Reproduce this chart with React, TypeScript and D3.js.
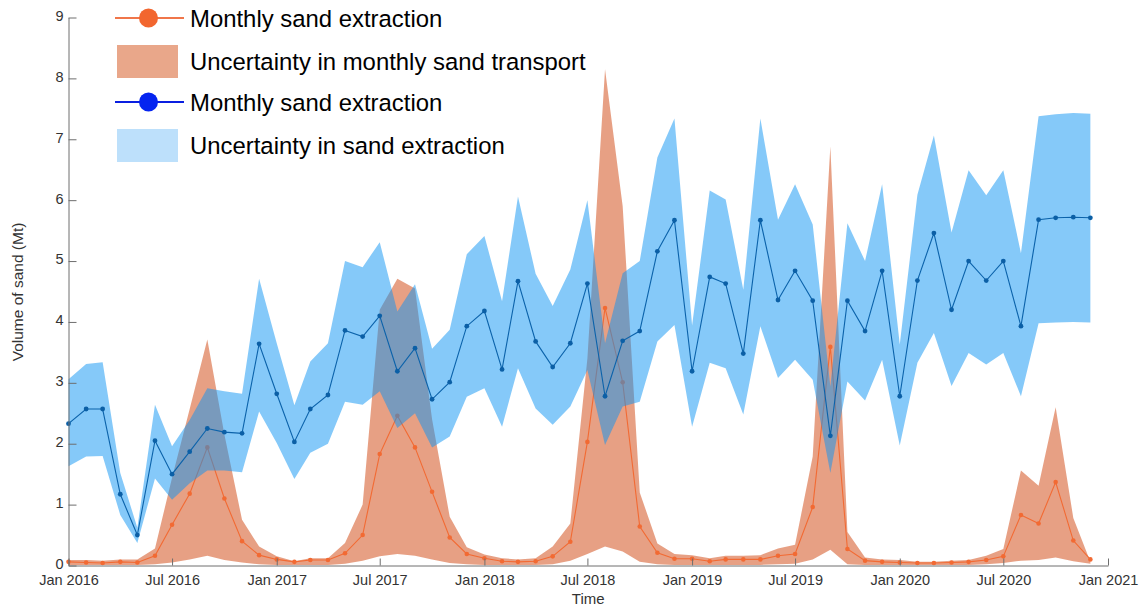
import * as d3 from "d3";
import { useEffect, useRef } from "react";

// monthly series, Jan 2016 .. Dec 2020
const startMonth = new Date(2016, 0, 1);
const months = d3.timeMonth.range(startMonth, new Date(2021, 0, 1));

const extractionValues = [
  2.33, 2.57, 2.57, 1.17, 0.5, 2.05, 1.5, 1.87, 2.25, 2.19, 2.17, 3.64,
  2.82, 2.03, 2.57, 2.8, 3.86, 3.76, 4.1, 3.19, 3.57, 2.73, 3.01, 3.93,
  4.18, 3.22, 4.67, 3.68, 3.26, 3.65, 4.63, 2.78, 3.69, 3.85, 5.16, 5.67,
  3.19, 4.74, 4.63, 3.48, 5.67, 4.36, 4.84, 4.35, 2.13, 4.35, 3.85, 4.84,
  2.78, 4.68, 5.46, 4.2, 5.0, 4.68, 5.0, 3.93, 5.68, 5.71, 5.72, 5.71,
];
const extractionUpper = [
  3.06, 3.31, 3.34, 1.52, 0.62, 2.64, 1.96, 2.39, 2.91, 2.86, 2.82, 4.71,
  3.65, 2.63, 3.35, 3.65, 5.0, 4.9, 5.31, 4.17, 4.62, 3.56, 3.87, 5.11,
  5.41, 4.34, 6.06, 4.79, 4.26, 4.86, 6.0, 3.65, 4.8, 5.0, 6.7, 7.34,
  3.94, 6.16, 6.01, 4.53, 7.34, 5.68, 6.26, 5.6, 2.94, 5.62, 5.0, 6.26,
  3.63, 6.09, 7.06, 5.47, 6.49, 6.08, 6.49, 5.13, 7.38, 7.41, 7.43, 7.42,
];
const extractionLower = [
  1.63, 1.79, 1.8, 0.83, 0.37, 1.43, 1.08, 1.35, 1.56, 1.56, 1.53, 2.53,
  2.01, 1.42, 1.85, 2.0, 2.69, 2.64, 2.86, 2.26, 2.5, 1.94, 2.12, 2.77,
  2.91, 2.28, 3.24, 2.58, 2.31, 2.61, 3.21, 1.98, 2.61, 2.69, 3.68, 3.95,
  2.28, 3.33, 3.24, 2.48, 3.93, 3.08, 3.38, 3.05, 1.52, 3.02, 2.71, 3.38,
  1.97, 3.33, 3.82, 2.95, 3.49, 3.3, 3.49, 2.78, 3.98, 3.99, 4.0, 3.99,
];

const transportValues = [
  0.06, 0.05, 0.04, 0.06, 0.05, 0.16, 0.67, 1.18, 1.94, 1.1, 0.4, 0.17,
  0.1, 0.06, 0.09, 0.09, 0.2, 0.5, 1.83, 2.46, 1.94, 1.21, 0.46, 0.19,
  0.12, 0.07, 0.06, 0.07, 0.15, 0.39, 2.03, 4.23, 3.01, 0.64, 0.21, 0.11,
  0.11, 0.07, 0.1, 0.1, 0.1, 0.16, 0.19, 0.96, 3.59, 0.27, 0.08, 0.06,
  0.05, 0.04, 0.04, 0.05, 0.06, 0.09, 0.15, 0.83, 0.69, 1.37, 0.41, 0.1,
];
const transportUpper = [
  0.09, 0.09, 0.08, 0.1, 0.1, 0.28, 1.44, 2.57, 3.71, 2.15, 0.75, 0.31,
  0.15, 0.07, 0.12, 0.12, 0.37, 1.0, 4.2, 4.71, 4.55, 2.4, 0.8, 0.3,
  0.18, 0.12, 0.1, 0.12, 0.31, 0.69, 3.4, 8.15, 5.9, 1.2, 0.36, 0.19,
  0.17, 0.12, 0.16, 0.16, 0.17, 0.28, 0.34, 1.79, 6.88, 0.55, 0.13, 0.1,
  0.09, 0.06, 0.06, 0.08, 0.09, 0.16, 0.27, 1.56, 1.31, 2.6, 0.78, 0.06,
];
const transportLower = [
  0.01, 0.01, 0.01, 0.01, 0.01, 0.02, 0.05, 0.1, 0.16, 0.09, 0.05, 0.02,
  0.01, 0.01, 0.01, 0.01, 0.03, 0.08, 0.15, 0.19, 0.16, 0.1, 0.04, 0.02,
  0.01, 0.01, 0.01, 0.01, 0.02, 0.08, 0.19, 0.31, 0.23, 0.06, 0.02, 0.01,
  0.01, 0.01, 0.01, 0.01, 0.01, 0.02, 0.03, 0.1, 0.26, 0.02, 0.01, 0.01,
  0.01, 0.01, 0.01, 0.01, 0.01, 0.02, 0.04, 0.08, 0.09, 0.13, 0.07, 0.03,
];

const yTicks = [0, 1, 2, 3, 4, 5, 6, 7, 8, 9];

const legendItems = [
  { label: "Monthly sand extraction", kind: "line", color: "#f0764a", marker: "#f2662f" },
  { label: "Uncertainty in monthly sand transport", kind: "rect", color: "#e9a78a" },
  { label: "Monthly sand extraction", kind: "line", color: "#0a1fe0", marker: "#0524f0" },
  { label: "Uncertainty in sand extraction", kind: "rect", color: "#bde0fb" },
];

const W = 1147;
const H = 609;

export default function App() {
  const svgRef = useRef<SVGSVGElement | null>(null);

  useEffect(() => {
    if (!svgRef.current) return;
    const svg = d3.select(svgRef.current);
    svg.selectAll("*").remove();

    const left = 68.5;
    const right = 1108;
    const top = 17.5;
    const bottom = 565.5;

    const x = d3
      .scaleTime()
      .domain([new Date(2016, 0, 1), new Date(2021, 0, 1)])
      .range([left, right]);
    const y = d3.scaleLinear().domain([0, 9]).range([bottom, top]);

    const rows = months.map((m, i) => ({
      date: m,
      ext: extractionValues[i],
      extHi: extractionUpper[i],
      extLo: extractionLower[i],
      tr: transportValues[i],
      trHi: transportUpper[i],
      trLo: transportLower[i],
    }));

    const font = "'Liberation Sans', Arial, sans-serif";

    // orange band + line (drawn under the blue band)
    svg
      .append("path")
      .datum(rows)
      .attr("fill", "rgb(207,66,10)")
      .attr("fill-opacity", 0.5)
      .attr(
        "d",
        d3
          .area<(typeof rows)[0]>()
          .x((d) => x(d.date))
          .y0((d) => y(d.trLo))
          .y1((d) => y(d.trHi)),
      );
    svg
      .append("path")
      .datum(rows)
      .attr("fill", "none")
      .attr("stroke", "#f26a33")
      .attr("stroke-width", 1.1)
      .attr(
        "d",
        d3
          .line<(typeof rows)[0]>()
          .x((d) => x(d.date))
          .y((d) => y(d.tr)),
      );
    svg
      .append("g")
      .selectAll("circle")
      .data(rows)
      .enter()
      .append("circle")
      .attr("cx", (d) => x(d.date))
      .attr("cy", (d) => y(d.tr))
      .attr("r", 2.3)
      .attr("fill", "#f26a33");

    // blue band + line
    svg
      .append("path")
      .datum(rows)
      .attr("fill", "rgb(12,148,244)")
      .attr("fill-opacity", 0.5)
      .attr(
        "d",
        d3
          .area<(typeof rows)[0]>()
          .x((d) => x(d.date))
          .y0((d) => y(d.extLo))
          .y1((d) => y(d.extHi)),
      );
    svg
      .append("path")
      .datum(rows)
      .attr("fill", "none")
      .attr("stroke", "#0b62aa")
      .attr("stroke-width", 1.1)
      .attr(
        "d",
        d3
          .line<(typeof rows)[0]>()
          .x((d) => x(d.date))
          .y((d) => y(d.ext)),
      );
    svg
      .append("g")
      .selectAll("circle")
      .data(rows)
      .enter()
      .append("circle")
      .attr("cx", (d) => x(d.date))
      .attr("cy", (d) => y(d.ext))
      .attr("r", 2.4)
      .attr("fill", "#0b5fa6");

    // axes, ticks pointing inwards
    const xAxis = svg
      .append("g")
      .attr("transform", `translate(0,${bottom})`)
      .call(
        d3
          .axisBottom(x)
          .ticks(d3.timeMonth.every(6))
          .tickFormat((d) => d3.timeFormat("%b %Y")(d as Date))
          .tickSizeInner(-7)
          .tickSizeOuter(0)
          .tickPadding(9),
      );
    xAxis.select(".domain").attr("stroke", "#6e6e6e");
    xAxis.selectAll(".tick line").attr("stroke", "#6e6e6e");
    xAxis
      .selectAll(".tick text")
      .attr("fill", "#333")
      .attr("font-family", font)
      .attr("font-size", 14.5);

    const yAxis = svg
      .append("g")
      .attr("transform", `translate(${left},0)`)
      .call(
        d3
          .axisLeft(y)
          .tickValues(yTicks)
          .tickFormat(d3.format("d"))
          .tickSizeInner(-8)
          .tickSizeOuter(0)
          .tickPadding(5),
      );
    yAxis.select(".domain").attr("stroke", "#6e6e6e");
    yAxis.selectAll(".tick line").attr("stroke", "#6e6e6e");
    yAxis
      .selectAll(".tick text")
      .attr("fill", "#333")
      .attr("font-family", font)
      .attr("font-size", 14.5)
      .attr("dy", "0.2em");

    svg
      .append("text")
      .attr("x", (left + right) / 2)
      .attr("y", 604)
      .attr("text-anchor", "middle")
      .attr("font-family", font)
      .attr("font-size", 15)
      .attr("fill", "#333")
      .text("Time");

    svg
      .append("text")
      .attr("transform", `translate(23,292) rotate(-90)`)
      .attr("text-anchor", "middle")
      .attr("font-family", font)
      .attr("font-size", 15.5)
      .attr("fill", "#333")
      .text("Volume of sand (Mt)");

    // legend
    const legendY = [18, 61, 102, 145];
    const lg = svg.append("g");
    legendItems.forEach((item, i) => {
      const cy = legendY[i];
      if (item.kind === "line") {
        lg.append("line")
          .attr("x1", 115)
          .attr("x2", 184)
          .attr("y1", cy)
          .attr("y2", cy)
          .attr("stroke", item.color)
          .attr("stroke-width", 2);
        lg.append("circle")
          .attr("cx", 148.5)
          .attr("cy", cy)
          .attr("r", 9.5)
          .attr("fill", item.marker as string);
      } else {
        lg.append("rect")
          .attr("x", 117)
          .attr("y", cy - 16)
          .attr("width", 61)
          .attr("height", 33)
          .attr("fill", item.color);
      }
      lg.append("text")
        .attr("x", 190)
        .attr("y", cy)
        .attr("dy", "0.36em")
        .attr("font-family", font)
        .attr("font-size", 23.9)
        .attr("fill", "#000")
        .text(item.label);
    });
  }, []);

  return (
    <div style={{ position: "fixed", left: 0, top: 0, width: W, height: H, background: "#fff" }}>
      <svg ref={svgRef} width={W} height={H} style={{ display: "block" }} />
    </div>
  );
}
